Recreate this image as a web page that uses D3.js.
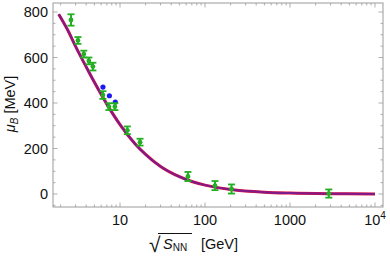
<!DOCTYPE html>
<html>
<head>
  <meta charset="utf-8">
  <script src="https://d3js.org/d3.v7.min.js"></script>
  <style>
    html, body { margin: 0; padding: 0; background: #fff; }
    svg { display: block; font-family: "Liberation Sans", Arial, sans-serif; }
  </style>
</head>
<body>
  <div id="chart"></div>
  <script>
    // freeze-out data (green, with errors)
    var sqrtS = [2.65, 3.2, 3.75, 4.3, 4.8, 6.3, 7.4, 8.7, 12.2, 17.2, 63, 131, 205, 2860];
    var muB = [765, 675, 615, 585, 560, 435, 384, 384, 280, 228, 77, 37, 22, 2];
    var muErr = [25, 15, 15, 15, 17, 17, 15, 15, 17, 15, 20, 20, 20, 18];

    // extra points (blue)
    var blueS = [6.3, 7.5, 8.8];
    var blueMu = [470, 432, 404];

    // fitted curve
    var curveS = [1.9, 2.5, 3, 4, 5, 7, 10, 15, 20, 30, 50, 70, 100, 200, 500, 1000, 3000, 10000];
    var curveMu = [790, 711, 649, 559, 491, 395, 305, 221, 174, 121, 76, 55, 39, 20, 8, 4, 1.3, 0.4];

    var yTicks = [0, 200, 400, 600, 800];
    var xTicks = [10, 100, 1000, 10000];

    var W = 390, H = 263;
    var margin = { top: 3, right: 7, bottom: 56, left: 53 };
    var width = W - margin.left - margin.right;
    var height = H - margin.top - margin.bottom;

    var svg = d3.select("#chart").append("svg")
      .attr("width", W)
      .attr("height", H);

    var g = svg.append("g")
      .attr("transform", "translate(" + margin.left + "," + margin.top + ")");

    var x = d3.scaleLog()
      .domain([1.628, 12420])
      .range([0, width]);

    var y = d3.scaleLinear()
      .domain([-57.1, 839.6])
      .range([height, 0]);

    var frameColor = "#9a9a9a";

    // minor ticks
    var xMinor = [];
    [1, 10, 100, 1000, 10000].forEach(function (d) {
      for (var k = 2; k < 10; k++) {
        var v = d * k;
        if (v >= x.domain()[0] && v <= x.domain()[1]) xMinor.push(v);
      }
    });
    var yMinor = d3.range(-50, 840, 50).filter(function (d) { return d % 200 != 0; });

    var ticks = g.append("g").attr("stroke", frameColor).attr("stroke-width", 0.8);

    function xTick(v, len) {
      ticks.append("line").attr("x1", x(v)).attr("x2", x(v)).attr("y1", height).attr("y2", height - len);
      ticks.append("line").attr("x1", x(v)).attr("x2", x(v)).attr("y1", 0).attr("y2", len);
    }
    function yTick(v, len) {
      ticks.append("line").attr("x1", 0).attr("x2", len).attr("y1", y(v)).attr("y2", y(v));
      ticks.append("line").attr("x1", width).attr("x2", width - len).attr("y1", y(v)).attr("y2", y(v));
    }
    xMinor.forEach(function (v) { xTick(v, 2.5); });
    xTicks.forEach(function (v) { xTick(v, 4.5); });
    yMinor.forEach(function (v) { yTick(v, 2.5); });
    yTicks.forEach(function (v) { yTick(v, 4.5); });

    // frame
    g.append("rect")
      .attr("width", width)
      .attr("height", height)
      .attr("fill", "none")
      .attr("stroke", frameColor)
      .attr("stroke-width", 1);

    // tick labels
    g.selectAll(".ylab").data(yTicks).enter().append("text")
      .attr("x", -5)
      .attr("y", function (d) { return y(d); })
      .attr("dy", "0.35em")
      .attr("text-anchor", "end")
      .attr("font-size", 14.5)
      .attr("fill", "#111")
      .text(function (d) { return d; });

    g.selectAll(".xlab").data(xTicks.slice(0, 3)).enter().append("text")
      .attr("x", function (d) { return x(d); })
      .attr("y", height + 18)
      .attr("text-anchor", "middle")
      .attr("font-size", 14.5)
      .attr("fill", "#111")
      .text(function (d) { return d; });

    var t4 = g.append("text")
      .attr("x", x(10000))
      .attr("y", height + 18)
      .attr("text-anchor", "middle")
      .attr("font-size", 14.5)
      .attr("fill", "#111");
    t4.append("tspan").text("10");
    t4.append("tspan").attr("font-size", 10).attr("dy", -6).text("4");

    // curve
    var curveData = curveS.map(function (s, i) { return [s, curveMu[i]]; });
    var line = d3.line()
      .x(function (d) { return x(d[0]); })
      .y(function (d) { return y(d[1]); })
      .curve(d3.curveMonotoneX);

    g.append("path").datum(curveData)
      .attr("fill", "none")
      .attr("stroke", "#e0103a")
      .attr("stroke-width", 3)
      .attr("d", line);
    g.append("path").datum(curveData)
      .attr("fill", "none")
      .attr("stroke", "#7e1a8c")
      .attr("stroke-width", 2)
      .attr("d", line);

    // blue points
    g.selectAll(".blue").data(blueS).enter().append("circle")
      .attr("cx", function (d) { return x(d); })
      .attr("cy", function (d, i) { return y(blueMu[i]); })
      .attr("r", 2.6)
      .attr("fill", "#1a1aee");

    // green points with error bars
    var green = "#22b022";
    var pts = g.selectAll(".pt").data(sqrtS).enter().append("g");
    pts.append("line")
      .attr("x1", function (d) { return x(d); })
      .attr("x2", function (d) { return x(d); })
      .attr("y1", function (d, i) { return y(muB[i] - muErr[i]); })
      .attr("y2", function (d, i) { return y(muB[i] + muErr[i]); })
      .attr("stroke", green).attr("stroke-width", 2);
    [-1, 1].forEach(function (sgn) {
      pts.append("line")
        .attr("x1", function (d) { return x(d) - 3.5; })
        .attr("x2", function (d) { return x(d) + 3.5; })
        .attr("y1", function (d, i) { return y(muB[i] + sgn * muErr[i]); })
        .attr("y2", function (d, i) { return y(muB[i] + sgn * muErr[i]); })
        .attr("stroke", green).attr("stroke-width", 1.8);
    });
    pts.append("circle")
      .attr("cx", function (d) { return x(d); })
      .attr("cy", function (d, i) { return y(muB[i]); })
      .attr("r", 2.4)
      .attr("fill", green);

    // axis titles
    var yt = svg.append("text")
      .attr("transform", "translate(15,104) rotate(-90)")
      .attr("text-anchor", "middle")
      .attr("font-size", 14.5)
      .attr("fill", "#111");
    yt.append("tspan").attr("font-style", "italic").text("μ");
    yt.append("tspan").attr("font-size", 10).attr("font-style", "italic").attr("dy", 3).text("B");
    yt.append("tspan").attr("dy", -3).text(" [MeV]");

    // x title: radical sign, S_NN under a bar, then unit
    svg.append("text")
      .attr("x", 149).attr("y", 252)
      .attr("font-size", 21)
      .attr("fill", "#111")
      .text("\u221A");
    var xt = svg.append("text")
      .attr("x", 163).attr("y", 249)
      .attr("font-size", 14.5)
      .attr("fill", "#111");
    xt.append("tspan").attr("font-style", "italic").text("S");
    xt.append("tspan").attr("font-size", 10).attr("dy", 2).text("NN");
    svg.append("text")
      .attr("x", 201).attr("y", 249)
      .attr("font-size", 14.5)
      .attr("fill", "#111")
      .text("[GeV]");
    svg.append("line")
      .attr("x1", 158).attr("x2", 192)
      .attr("y1", 233.5).attr("y2", 233.5)
      .attr("stroke", "#111").attr("stroke-width", 1.2);
  </script>
</body>
</html>
